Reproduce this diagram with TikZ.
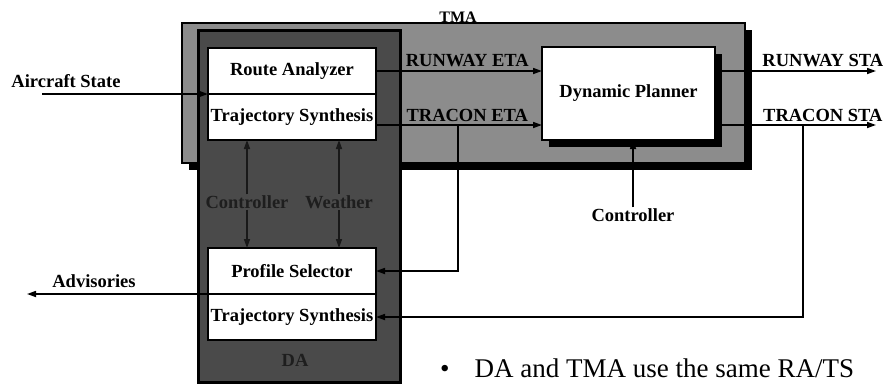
\documentclass[tikz,border=0pt]{standalone}
\usepackage{fontspec}
\setmainfont{Liberation Serif}
\usetikzlibrary{arrows.meta,positioning,shadows}
\definecolor{PanelGray}{HTML}{8C8C8C}
\definecolor{DarkPanel}{HTML}{4A4A4A}
\definecolor{Faint}{HTML}{1E1E1E}
\tikzset{
  fnbox/.style={draw=black, line width=1.2pt, fill=white, minimum width=168pt,
    minimum height=46pt, inner sep=0pt, outer sep=0pt,
    font=\fontsize{18.5}{20}\selectfont\bfseries},
  flow/.style={-{Triangle[length=9pt,width=6pt]}, line width=1.6pt, draw=black},
  lbl/.style={font=\fontsize{18.5}{20}\selectfont\bfseries, inner sep=1pt},
}

\begin{document}
\begin{tikzpicture}[x=1pt, y=-1pt,
  region/.style={draw=black, line width=2pt, inner sep=0pt, outer sep=0pt, fill=#1},
  hardshadow/.style={drop shadow={shadow xshift=7pt, shadow yshift=-7pt,
    fill=black, opacity=1}},
  dimflow/.style={flow, draw=black!90, line width=1.4pt},
]
  \useasboundingbox (0,0) rectangle (891,386);
  % TMA and DA panels
  \node[region=PanelGray, hardshadow, minimum width=563pt, minimum height=140pt] (tma) at (463.5,93) {};
  \node[lbl, font=\fontsize{16}{18}\selectfont\bfseries] (tmalbl) at (458,17) {TMA};
  \node[region=DarkPanel, line width=3pt, minimum width=202pt, minimum height=352pt] (da) at (299,206) {};
  \node[lbl, text=Faint] (dalbl) at (295,360) {DA};

  \node[fnbox] (ra) at (292,71) {Route Analyzer};
  \node[fnbox, below=0pt of ra] (ts) {Trajectory Synthesis};
  \node[fnbox] (ps) at (292,271) {Profile Selector};
  \node[fnbox, below=0pt of ps] (ts2) {Trajectory Synthesis};
  \node[fnbox, hardshadow, minimum width=173pt, minimum height=93pt] (dp) at (628.5,93.5) {Dynamic Planner};

  % inputs inside DA
  \node[lbl, text=Faint] (dactl) at (247,202) {Controller};
  \node[lbl, text=Faint] (dawx) at (339,202) {Weather};
  \draw[dimflow] (dactl.north) -- (dactl.north |- ts.south);
  \draw[dimflow] (dactl.south) -- (dactl.south |- ps.north);
  \draw[dimflow] (dawx.north) -- (dawx.north |- ts.south);
  \draw[dimflow] (dawx.south) -- (dawx.south |- ps.north);

  \coordinate (acs) at (42,94);
  \node[lbl] (acslbl) at (66,81) {Aircraft State};
  \draw[flow] (acs) -- (ra.south west);

  \coordinate (trcout) at ([yshift=-8pt]ts.east);
  \draw[flow] (ra.east) -- node[lbl, above=2pt, pos=0.55] (rwyeta) {RUNWAY ETA} (ra.east -| dp.west);
  \draw[flow] (trcout) -- node[lbl, above=2pt, pos=0.55] (trceta) {TRACON ETA} (trcout -| dp.west);

  \coordinate (rwyend) at (876,71);
  \coordinate (trcend) at (876,125);
  \draw[flow] (dp.east |- rwyend) -- node[lbl, above=2pt, pos=0.67] (rwysta) {RUNWAY STA} (rwyend);
  \draw[flow] (dp.east |- trcend) -- node[lbl, above=2pt, pos=0.67] (trcsta) {TRACON STA} (trcend);

  % feedback to DA
  \coordinate (fb1) at (458,125);
  \coordinate (fb2) at (803,125);
  \draw[flow] (fb1) |- (ps.east);
  \draw[flow] (fb2) |- (ts2.east);

  \node[lbl] (ctl) at (633,215) {Controller};
  \draw[flow] (ctl.north) -- (ctl.north |- dp.south);

  \coordinate (advend) at (27,294);
  \node[lbl] (advlbl) at (94,281) {Advisories};
  \draw[flow] (ps.south west) -- (advend);

  \node[anchor=base west, font=\fontsize{27}{30}\selectfont, inner sep=0pt] (note) at (440,377)
    {\textbullet\hspace{25pt}DA and TMA use the same RA/TS};
\end{tikzpicture}
\end{document}
